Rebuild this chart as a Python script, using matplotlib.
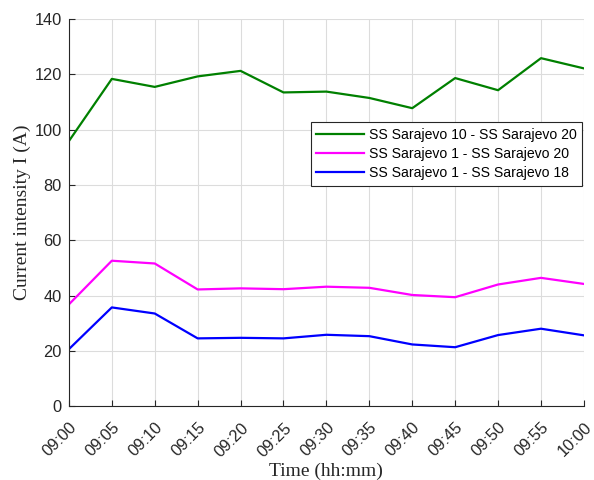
import matplotlib
matplotlib.use('Agg')
from matplotlib import pyplot as plt
import matplotlib.transforms as mtransforms
import numpy as np

times = ['09:00', '09:05', '09:10', '09:15', '09:20', '09:25', '09:30',
         '09:35', '09:40', '09:45', '09:50', '09:55', '10:00']
ss10_ss20 = [95.9, 118.4, 115.5, 119.3, 121.3, 113.5, 113.8,
             111.5, 107.8, 118.7, 114.3, 125.9, 122.2]
ss1_ss20 = [36.8, 52.6, 51.6, 42.2, 42.6, 42.3, 43.2,
            42.8, 40.2, 39.4, 44.0, 46.4, 44.2]
ss1_ss18 = [20.6, 35.7, 33.5, 24.5, 24.7, 24.5, 25.8,
            25.3, 22.3, 21.3, 25.7, 28.0, 25.6]

x = np.arange(len(times))

fig = plt.figure(figsize=(5.94, 4.8), dpi=100)
ax = fig.add_axes([0.116, 0.154, 0.867, 0.806])

ax.plot(x, ss10_ss20, color='#008000', lw=1.6, label='SS Sarajevo 10 - SS Sarajevo 20')
ax.plot(x, ss1_ss20, color='#ff00ff', lw=1.6, label='SS Sarajevo 1 - SS Sarajevo 20')
ax.plot(x, ss1_ss18, color='#0000ff', lw=1.6, label='SS Sarajevo 1 - SS Sarajevo 18')

ax.set_xlim(0, len(times) - 1)
ax.set_ylim(0, 140)
ax.set_yticks(range(0, 141, 20))
ax.set_xticks(x)
ax.set_xticklabels(times, rotation=45, ha='right', va='top', rotation_mode='anchor')

# MATLAB-like look: sans ticks, serif axis labels
for lab in ax.get_xticklabels() + ax.get_yticklabels():
    lab.set_fontfamily('Liberation Sans')
    lab.set_fontsize(11.8)
    lab.set_color('#262626')

# nudge rotated labels a bit to the right, like the original
shift = mtransforms.ScaledTranslation(3 / 100, 0, fig.dpi_scale_trans)
for lab in ax.get_xticklabels():
    lab.set_transform(lab.get_transform() + shift)

ax.tick_params(direction='in', length=4, color='#262626', width=0.8)
ax.tick_params(axis='x', pad=10)
ax.tick_params(axis='y', pad=5)
ax.grid(True, color='#dcdcdc', lw=0.8)
ax.set_axisbelow(True)
for s in ['top', 'right']:
    ax.spines[s].set_visible(False)
for s in ['left', 'bottom']:
    ax.spines[s].set_color('#262626')
    ax.spines[s].set_linewidth(0.8)

ax.set_xlabel('Time (hh:mm)', family='Liberation Serif', fontsize=14, color='#262626', labelpad=2)
ax.set_ylabel('Current intensity I (A)', family='Liberation Serif', fontsize=14, color='#262626', labelpad=2.5)

leg = ax.legend(loc='upper right', bbox_to_anchor=(0.997, 0.733),
                prop={'family': 'Liberation Sans', 'size': 10.1},
                frameon=True, fancybox=False, borderpad=0.4,
                labelspacing=0.36, handlelength=3.4, handletextpad=0.36,
                borderaxespad=0)
leg.get_frame().set_edgecolor('#262626')
leg.get_frame().set_linewidth(0.8)
leg.get_frame().set_alpha(1)

fig.savefig('out.png', dpi=100)
